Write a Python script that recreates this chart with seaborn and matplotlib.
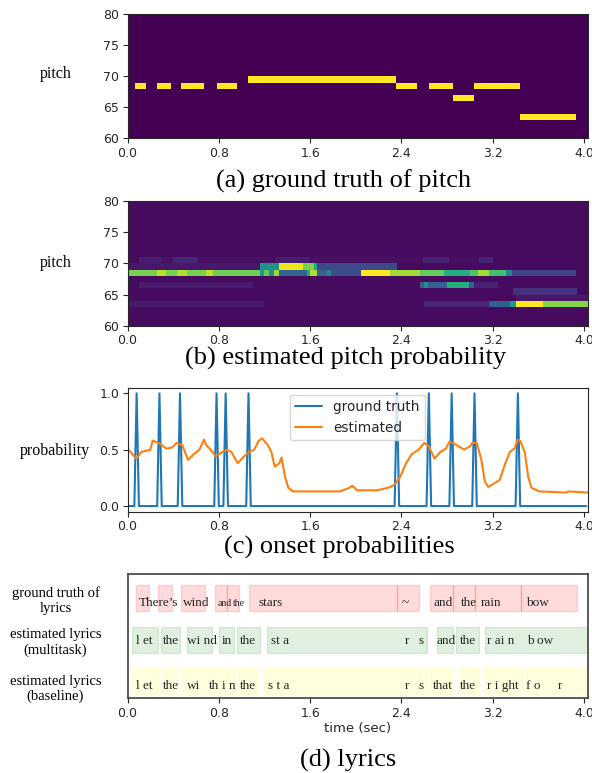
import numpy as np
import matplotlib
matplotlib.use("Agg")
import matplotlib.pyplot as plt
import seaborn as sns

# ============================================================
# Données
# ============================================================
hop = 0.01            # pas des trames pour les piano-rolls (s)
t_max = 4.03
pitch_lo, pitch_hi = 60, 80
time_ticks = [0.0, 0.8, 1.6, 2.4, 3.2, 4.0]
pitch_ticks = [60, 65, 70, 75, 80]

# (a) notes de référence
note_start = [0.073, 0.264, 0.473, 0.777, 1.064, 2.355, 2.645, 2.850, 3.040, 3.440]
note_end = [0.165, 0.380, 0.668, 0.965, 2.355, 2.545, 2.850, 3.040, 3.440, 3.935]
note_pitch = [68, 68, 68, 68, 69, 68, 68, 66, 68, 63]

# (b) probabilité estimée : segments (bornes, valeurs) par hauteur
est68_edges = [0.0, 0.26, 0.34, 0.43, 0.52, 0.69, 0.75, 1.16, 1.20, 1.24, 1.28, 1.335,
               1.57, 1.60, 1.66, 1.75, 1.78, 2.05, 2.30, 2.56, 2.77, 3.00, 3.07, 3.17,
               3.32, 3.37, 3.93]
est68_vals = [0.80, 0.90, 0.80, 0.88, 0.80, 0.90, 0.78, 0.55, 0.75, 0.50, 0.85, 0.32,
              0.60, 0.88, 0.32, 0.45, 0.24, 1.00, 0.86, 0.76, 0.62, 0.72, 0.86, 0.70,
              0.45, 0.20]
est69_edges = [0.0, 1.16, 1.335, 1.54, 1.63, 1.66, 2.36]
est69_vals = [0.06, 0.50, 0.97, 0.80, 0.60, 0.22]
est70_edges = [0.10, 0.30, 0.40, 0.62, 1.30, 1.60, 2.59, 2.82, 3.08, 3.20]
est70_vals = [0.08, 0.05, 0.10, 0.04, 0.08, 0.04, 0.10, 0.04, 0.10]
est66_edges = [0.10, 1.10, 2.56, 2.60, 2.63, 2.80, 2.99, 3.04, 3.25]
est66_vals = [0.07, 0.03, 0.30, 0.50, 0.30, 0.62, 0.30, 0.09]
est65_edges = [3.38, 3.94]
est65_vals = [0.14]
est64_edges = [3.40, 4.03]
est64_vals = [0.06]
est63_edges = [0.0, 1.20, 2.60, 3.17, 3.35, 3.40, 3.64, 4.03]
est63_vals = [0.07, 0.03, 0.10, 0.30, 0.55, 1.00, 0.82]

# (c) onsets
onset_gt_times = [0.074, 0.270, 0.468, 0.781, 0.869, 1.058, 2.357, 2.643, 2.844, 3.037, 3.428]
onset_hop = 0.02
est_t = [0.00, 0.06, 0.08, 0.12, 0.20, 0.22, 0.25, 0.29, 0.34, 0.39, 0.43, 0.48,
         0.53, 0.58, 0.63, 0.67, 0.69, 0.72, 0.775, 0.83, 0.87, 0.91, 0.965, 1.02,
         1.065, 1.11, 1.15, 1.18, 1.23, 1.26, 1.29, 1.33, 1.35, 1.38, 1.41, 1.45,
         1.59, 1.86, 1.94, 1.97, 2.01, 2.19, 2.29, 2.34, 2.39, 2.44, 2.49, 2.55,
         2.60, 2.64, 2.69, 2.74, 2.79, 2.82, 2.85, 2.90, 2.95, 3.00, 3.02, 3.06,
         3.10, 3.13, 3.16, 3.21, 3.26, 3.31, 3.35, 3.39, 3.42, 3.44, 3.48, 3.51,
         3.54, 3.61, 3.84, 3.86, 4.03]
est_v = [0.51, 0.44, 0.42, 0.48, 0.50, 0.58, 0.57, 0.55, 0.51, 0.52, 0.56, 0.54,
         0.41, 0.46, 0.50, 0.59, 0.54, 0.51, 0.44, 0.48, 0.50, 0.48, 0.38, 0.44,
         0.48, 0.50, 0.58, 0.60, 0.54, 0.48, 0.35, 0.38, 0.43, 0.26, 0.16, 0.13,
         0.13, 0.13, 0.16, 0.18, 0.14, 0.14, 0.165, 0.19, 0.26, 0.38, 0.46, 0.50,
         0.56, 0.53, 0.42, 0.48, 0.51, 0.57, 0.56, 0.53, 0.50, 0.53, 0.56, 0.56,
         0.41, 0.22, 0.17, 0.20, 0.23, 0.38, 0.48, 0.51, 0.59, 0.58, 0.48, 0.26,
         0.16, 0.13, 0.12, 0.13, 0.12]

# (d) paroles
gt_start = [0.073, 0.271, 0.473, 0.764, 0.876, 1.064, 2.360, 2.651, 2.853, 3.045, 3.445]
gt_end = [0.188, 0.390, 0.678, 0.876, 0.975, 2.360, 2.552, 2.853, 3.045, 3.445, 3.940]
gt_words = ["There\u2019s", "wind", "and", "the", "stars", "~", "and", "the", "rain", "bow"]
gt_word_x = [0.099, 0.483, 0.790, 0.925, 1.147, 2.403, 2.685, 2.917, 3.098, 3.494]
gt_word_small = [False, False, True, True, False, False, False, False, False, False]

mt_start = [0.037, 0.294, 0.517, 0.800, 0.957, 1.219, 2.712, 2.877, 3.136]
mt_end = [0.264, 0.460, 0.744, 0.933, 1.160, 2.622, 2.849, 3.077, 4.10]
mt_words = ["l et", "the", "wi nd", "in", "the", "st a", "r", "s", "and", "the", "r ai n", "b ow"]
mt_word_x = [0.073, 0.314, 0.519, 0.826, 0.985, 1.256, 2.426, 2.552, 2.707, 2.909, 3.147, 3.504]

bl_start = [0.037, 0.294, 0.481, 0.957, 1.183, 2.650, 2.902, 3.125, 3.488]
bl_end = [0.264, 0.433, 0.933, 1.135, 2.622, 2.849, 3.077, 3.457, 4.10]
bl_words = ["l et", "the", "wi", "th", "i n", "the", "s t a", "r", "s", "that", "the",
            "r i ght", "f o", "r"]
bl_word_x = [0.073, 0.314, 0.519, 0.717, 0.826, 0.985, 1.230, 2.426, 2.552, 2.674,
             2.909, 3.147, 3.494, 3.769]

row_labels = ["ground truth of\nlyrics", "estimated lyrics\n(multitask)",
              "estimated lyrics\n(baseline)"]

# ============================================================
# Construction des matrices
# ============================================================
n_frames = int(round(t_max / hop))
n_pitch = pitch_hi - pitch_lo
centers = (np.arange(n_frames) + 0.5) * hop


def row_of(p):
    return pitch_hi - 1 - p


roll_gt = np.zeros((n_pitch, n_frames))
for s, e, p in zip(note_start, note_end, note_pitch):
    roll_gt[row_of(p), (centers >= s) & (centers < e)] = 1.0

roll_est = np.full((n_pitch, n_frames), 0.03)
for p, edges, vals in [(68, est68_edges, est68_vals), (69, est69_edges, est69_vals),
                       (70, est70_edges, est70_vals), (66, est66_edges, est66_vals),
                       (65, est65_edges, est65_vals), (64, est64_edges, est64_vals),
                       (63, est63_edges, est63_vals)]:
    for i, v in enumerate(vals):
        m = (centers >= edges[i]) & (centers < edges[i + 1])
        roll_est[row_of(p), m] = v

onset_frames = np.arange(0, t_max, onset_hop)
onset_gt = np.zeros_like(onset_frames)
for t in onset_gt_times:
    onset_gt[int(round(t / onset_hop))] = 1.0

# ============================================================
# Figure
# ============================================================
sns.set_style("ticks")
plt.rcParams["font.family"] = ["DejaVu Sans"]
SERIF = "Liberation Serif"
W, H = 592, 773
TICK_FS = 9
TITLE_FS = 19
fig = plt.figure(figsize=(W / 100, H / 100), dpi=100)


def add_ax(top, bottom):
    return fig.add_axes([127.5 / W, 1 - bottom / H, 460 / W, (bottom - top) / H])


def ftext(x, y, s, size, **kw):
    fig.text(x / W, 1 - y / H, s, fontsize=size, family=SERIF, ha="center",
             va="center", color="black", **kw)


def style_ticks(ax):
    ax.tick_params(axis="both", labelsize=TICK_FS, length=3.5, width=0.8,
                   colors=".15", direction="out", pad=2.5)


def draw_roll(ax, mat):
    sns.heatmap(mat, ax=ax, cmap="viridis", vmin=0, vmax=1, cbar=False,
                xticklabels=False, yticklabels=False)
    ax.set_xlim(0, n_frames)
    ax.set_ylim(n_pitch, 0)
    for sp in ax.spines.values():
        sp.set_visible(True)
        sp.set_linewidth(0.8)
        sp.set_color(".15")
    ax.set_xticks(np.array(time_ticks) / hop)
    ax.set_xticklabels([f"{t:.1f}" for t in time_ticks], rotation=0)
    ax.set_yticks(pitch_hi - np.array(pitch_ticks))
    ax.set_yticklabels([str(p) for p in pitch_ticks], rotation=0)
    style_ticks(ax)


ax_a = add_ax(14.3, 138.3)
draw_roll(ax_a, roll_gt)
ftext(55.5, 74, "pitch", 11.5)
ftext(343.5, 181, "(a) ground truth of pitch", TITLE_FS)

ax_b = add_ax(201, 325.7)
draw_roll(ax_b, roll_est)
ftext(55.5, 263, "pitch", 11.5)
ftext(346, 358, "(b) estimated pitch probability", TITLE_FS)

# (c)
ax_c = add_ax(387.7, 511.7)
sns.lineplot(x=onset_frames, y=onset_gt, ax=ax_c, color="#1f77b4", lw=1.5,
             label="ground truth")
sns.lineplot(x=est_t, y=est_v, ax=ax_c, color="#ff7f0e", lw=1.5, label="estimated")
ax_c.set_xlim(0, t_max)
ax_c.set_ylim(-0.05, 1.05)
ax_c.set_xticks(time_ticks)
ax_c.set_xticklabels([f"{t:.1f}" for t in time_ticks])
ax_c.set_yticks([0.0, 0.5, 1.0])
ax_c.set_yticklabels(["0.0", "0.5", "1.0"])
for sp in ax_c.spines.values():
    sp.set_linewidth(0.8)
    sp.set_color(".15")
style_ticks(ax_c)
ax_c.legend(loc="upper center", fontsize=9.8, frameon=True)
ftext(55, 451, "probability", 11.5)
ftext(339, 547.5, "(c) onset probabilities", TITLE_FS)

# (d)
ax_d = add_ax(574.3, 698.3)
rows = [(gt_start, gt_end, "red", 0.14),
        (mt_start, mt_end, "green", 0.12),
        (bl_start, bl_end, "yellow", 0.13)]
for i, (st, en, col, a) in enumerate(rows):
    ax_d.barh([i + 0.585] * len(st), np.array(en) - np.array(st), left=st, height=0.63,
              color=col, alpha=a, edgecolor=col, linewidth=1.0)

for w, x, small in zip(gt_words, gt_word_x, gt_word_small):
    ax_d.text(x, 0.77, w, fontsize=7 if small else 9.5, family=SERIF,
              va="baseline", ha="left")
for w, x in zip(mt_words, mt_word_x):
    ax_d.text(x, 1.68, w, fontsize=9.5, family=SERIF, va="baseline", ha="left")
for w, x in zip(bl_words, bl_word_x):
    ax_d.text(x, 2.77, w, fontsize=9.5, family=SERIF, va="baseline", ha="left")

ax_d.set_xlim(0, t_max)
ax_d.set_ylim(3, 0)
ax_d.set_yticks([])
ax_d.set_xticks(time_ticks)
ax_d.set_xticklabels([f"{t:.1f}" for t in time_ticks])
for sp in ax_d.spines.values():
    sp.set_linewidth(1.2)
    sp.set_color(".25")
style_ticks(ax_d)
ax_d.set_xlabel("time (sec)", fontsize=9.5, color=".15", labelpad=2)
for lab, y in zip(row_labels, [600.7, 642.3, 689]):
    ftext(55.5, y, lab, 10.5, linespacing=1.2)
ftext(348, 760.5, "(d) lyrics", TITLE_FS)

fig.savefig("out.png", dpi=100)
